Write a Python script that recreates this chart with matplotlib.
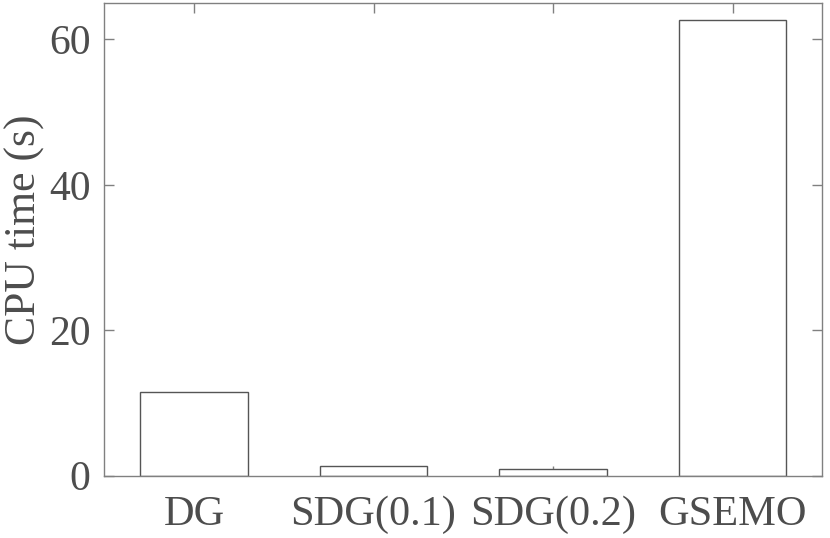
import matplotlib
matplotlib.use("Agg")
import matplotlib.pyplot as plt

categories = ["DG", "SDG(0.1)", "SDG(0.2)", "GSEMO"]
cpu_time = [11.47, 1.29, 0.88, 62.7]
yticks = [0, 20, 40, 60]

plt.rcParams['font.family'] = ['Liberation Serif', 'DejaVu Serif']
text_color = '#4d4d4d'
axis_color = '#808080'

fig = plt.figure(figsize=(8.3, 5.38), dpi=100)
ax = fig.add_axes([0.1257, 0.1158, 0.9907 - 0.1257, 0.9944 - 0.1158])

x = list(range(1, len(categories) + 1))
ax.bar(x, cpu_time, width=0.6, facecolor='white', edgecolor='#555555', linewidth=1.0, zorder=2)

ax.set_xlim(0.5, 4.5)
ax.set_ylim(0, 65)
ax.set_xticks(x)
ax.set_xticklabels(categories)
ax.set_yticks(yticks)
ax.set_ylabel("CPU time (s)", fontsize=31.5, color=text_color)
ax.yaxis.set_label_coords(-0.082, 0.52)

ax.tick_params(axis='both', direction='in', length=7, width=1.0, color=axis_color,
               labelcolor=text_color, labelsize=30, top=True, right=True, pad=10)
ax.tick_params(axis='x', labelsize=30.5, pad=14)
for sp in ax.spines.values():
    sp.set_color(axis_color)
    sp.set_linewidth(1.0)

fig.savefig("out.png", dpi=100)
